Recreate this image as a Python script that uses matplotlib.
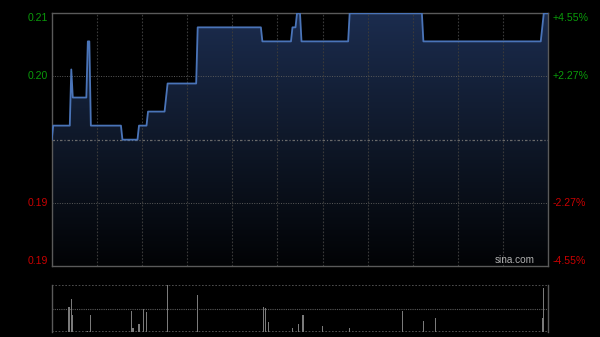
import numpy as np
import matplotlib
matplotlib.use("Agg")
import matplotlib.pyplot as plt
from matplotlib.colors import LinearSegmentedColormap

# ---- Data (minutes since 9:30, HK session 330 min) ----
price_times = [0, 1, 12, 13, 14, 23, 24, 25, 26, 46, 47, 57, 58, 63, 64, 75, 77,
               96, 97, 139, 140, 159, 160, 162, 163, 165, 166, 197, 198, 246, 247,
               325, 327, 330]
prices = [0.198, 0.199, 0.199, 0.203, 0.201, 0.201, 0.205, 0.205, 0.199, 0.199,
          0.198, 0.198, 0.199, 0.199, 0.200, 0.200, 0.202, 0.202, 0.206, 0.206,
          0.205, 0.205, 0.206, 0.206, 0.207, 0.207, 0.205, 0.205, 0.207, 0.207,
          0.205, 0.205, 0.207, 0.207]

vol_times = [11, 12, 13, 14, 24, 26, 53, 54, 58, 61, 63, 77, 97, 141, 142, 144,
             160, 164, 167, 180, 198, 233, 247, 255, 326, 327]
volumes = [53, 53, 70, 36, 2, 36, 45, 7, 17, 48, 42, 100, 80, 53, 52, 21,
           9, 17, 35, 13, 9, 45, 23, 29, 29, 94]

prev_close = 0.198
y_low, y_high = 0.189, 0.207
left_labels = ["0.21", "0.20", "0.19", "0.19"]
right_labels = ["+4.55%", "+2.27%", "-2.27%", "-4.55%"]
label_levels = [0.207, 0.2025, 0.1935, 0.189]

GREEN = "#0a9a0a"
RED = "#c80000"
LINE = "#4a74b8"

fig = plt.figure(figsize=(6, 3.37), dpi=100, facecolor="black")
ax = fig.add_axes([0.0862, 0.2107, 0.8276, 0.7498], facecolor="black")
axv = fig.add_axes([0.0862, 0.0157, 0.8276, 0.1377], facecolor="black")

# ---- price panel ----
ax.set_xlim(0, 330)
ax.set_ylim(y_low, y_high)

# gradient under the line
cmap = LinearSegmentedColormap.from_list("g", ["#020305", "#0f1829", "#1b2c4e"])
grad = np.linspace(0, 1, 256).reshape(-1, 1)
img = ax.imshow(grad, extent=[0, 330, y_low, y_high], origin="lower",
                aspect="auto", cmap=cmap, zorder=1)
poly = ax.fill_between(price_times, prices, y_low, color="none", lw=0)
img.set_clip_path(poly.get_paths()[0], transform=ax.transData)

ax.plot(price_times, prices, color=LINE, lw=1.3, zorder=4)

for t in range(30, 330, 30):
    ax.axvline(t, color="#3a3a3a", lw=0.8, ls=(0, (1.5, 1.5)), zorder=2)
for yv in [0.2025, 0.1935]:
    ax.axhline(yv, color="#5a5a5a", lw=0.7, ls=(0, (1, 1.5)), zorder=2)
ax.axhline(prev_close, color="#6a6a6a", lw=0.9, ls=(0, (2, 1.5, 1, 1.5)), zorder=2)

for s in ax.spines.values():
    s.set_color("#5a5a5a")
    s.set_linewidth(1.0)
ax.set_xticks([])
ax.set_yticks([])

for lvl, lt, rt in zip(label_levels, left_labels, right_labels):
    va = "center"
    if lvl == y_high:
        va = "top"
    elif lvl == y_low:
        va = "bottom"
    col = GREEN if lvl > prev_close else RED
    ax.text(-0.008, lvl, lt, transform=ax.get_yaxis_transform(), ha="right",
            va=va, color=col, fontsize=7.6, family="Liberation Sans")
    ax.text(1.008, lvl, rt, transform=ax.get_yaxis_transform(), ha="left",
            va=va, color=col, fontsize=7.6, family="Liberation Sans")

ax.text(0.973, 0.005, "sina.com", transform=ax.transAxes, ha="right", va="bottom",
        color="#b0b0b0", fontsize=7.2, family="Liberation Sans", zorder=5)

# ---- volume panel ----
axv.set_xlim(0, 330)
axv.set_ylim(0, 100)
axv.bar(vol_times, volumes, width=0.8, color="#7a7a7a", zorder=3)
axv.axhline(50, color="#5a5a5a", lw=0.8, ls=(0, (1, 1)), zorder=2)
axv.axhline(100, color="#5a5a5a", lw=1.2, ls=(0, (1, 1)), zorder=2)
axv.axhline(0, color="#5a5a5a", lw=1.2, ls=(0, (1, 1)), zorder=2)
for k in ["top", "bottom"]:
    axv.spines[k].set_visible(False)
for k in ["left", "right"]:
    axv.spines[k].set_color("#5a5a5a")
    axv.spines[k].set_linewidth(1.0)
axv.set_xticks([])
axv.set_yticks([])

fig.savefig("out.png", dpi=100, facecolor="black")
